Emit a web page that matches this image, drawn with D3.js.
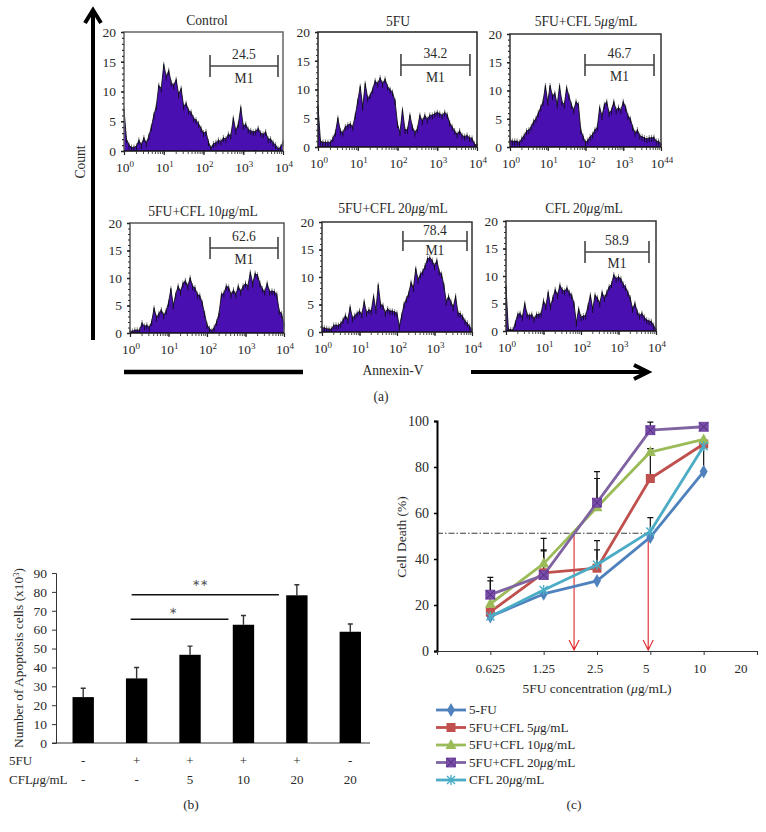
<!DOCTYPE html>
<html><head><meta charset="utf-8">
<style>
html,body{margin:0;padding:0;background:#fff}
svg{display:block}
text{font-family:"Liberation Serif",serif;fill:#2a2a2a}
</style>
<script src="https://cdn.jsdelivr.net/npm/d3@7"></script>
</head><body><svg id="c" width="766" height="832"></svg>
<script>
// ---- panel (a): flow histograms, counts per log channel (16 channels per decade)
const panelTitles = ["Control","5FU","5FU+CFL 5μg/mL","5FU+CFL 10μg/mL","5FU+CFL 20μg/mL","CFL 20μg/mL"];
const m1Percent = ["24.5","34.2","46.7","62.6","78.4","58.9"];
const m1Range = [[146,7480],[122,6640],[97,6530],[120,6980],[144,7360],[128,6500]];
const histControl = [7,2,1,.6,.6,.8,1.8,1,2.2,1.3,2.5,4,6,7.5,11,10.5, 14.5,12.5,13.5,11.5,11,12,9.5,10.5,7.5,8,6.8,6.5,5.5,5.2,4.6,3.8, 3,3.2,1.5,.5,1.2,1.4,1.8,1.6,2.2,2,2.8,2.6,5.5,3.4,4.5,7.3, 4.2,4.5,3.6,3.4,3.2,3.3,3.8,3,2.8,3.2,2,2,1.4,1,.4,.6,1.5];
const hist5FU = [7,1,.8,.8,.8,.8,1.5,2.5,5,2.8,2.5,3.5,3.8,4,3.5,5.5, 8,10.5,7,11,8.5,9,10,11.5,11,12,11,11.8,10.5,10,9.5,8, 4,2.5,6.5,3,3,5.5,3.5,2.5,3.2,5.5,4.5,5.5,4.8,5.5,5.5,5.8, 6,5.8,5.5,6,5.6,4.2,3.5,2.8,2.2,2.8,2,1.8,2,1.6,1.5,.5,.3];
const histCFL5 = [1.2,1,1,1,.8,1.5,2,2.8,3,3.6,4.5,5,6,7,8,10.8, 8,10.8,9,9.5,7.5,10.8,8,7.5,10.5,9,7.5,6.5,8,7.5,3,1.8, .8,1.2,1.8,2.2,3,3.5,7,5.5,7.5,8,6,6.5,8,6.5,7,6.5, 8,7,5.5,5,3.5,2.5,3,2,1.8,1.6,1.4,1.6,1.6,1.7,1,1,.4];
const histCFL10 = [.3,.3,.5,.5,.5,1.8,1.2,1.4,1,2,4.5,2.8,3.5,4.2,3.2,4, 5.5,8,5,7,8.5,7.5,9,9.5,8.5,10,8.5,8.2,7,6.8,5.5,3.5, 1.5,.8,.4,1,2,3.5,7,7.2,8.5,8.3,7,7.8,7,8.5,7.5,8.5, 9,8.5,11,9,10.8,10.5,9,8,7.5,9,7.5,7.6,7.5,7,4,3.5,1.5];
const histCFL20 = [.8,.7,.6,.5,.5,1.2,1.2,1.2,1.5,2.2,3,2.2,4.5,2.5,3,3.4, 3.8,3.2,5.5,3.5,4,3.8,6.5,4,8.5,5,4.8,3.5,4.2,3.8,3.8,3.6, 3.4,1,3,5,6,7,9,8,11.5,9.5,10.5,11,12,13.3,13.5,13, 12,13,11,10.5,8.5,5.5,6.5,5.5,4.5,6.5,3.5,3.3,2.8,2,1.6,1,.3];
const histOnly = [8,.3,.2,.2,1.5,3,3.2,2.5,5,3,2.8,3,2.2,3,3,3.2, 5.5,4.5,7,4.5,6,7.5,6.5,8.3,7.5,7.2,7.8,7,6.5,5,1.5,4, 2.5,2.7,2.8,4.5,6.5,4,6.5,6,5,7,6,7,8,8.5,10.2,9.5, 9.8,9.5,8.5,8,7,6,4,5,3.5,2.8,3.2,2.5,2,1.8,1.7,1,.2];
const histograms = [histControl,hist5FU,histCFL5,histCFL10,histCFL20,histOnly];

// ---- panel (b)
const barValues = [24.3,34.2,46.7,62.6,78.2,58.9];
const barErrTops = [29,40,51.3,67.5,83.8,63];
const row5FU = ["-","+","+","+","+","-"];
const rowCFL = ["-","-","5","10","20","20"];

// ---- panel (c)
const concLabels = ["0.625","1.25","2.5","5","10","20"];
const series5FU = [15,24.8,30.5,49.5,78];
const seriesCFL5 = [17,34,36,75,90];
const seriesCFL10 = [20.5,38,62.5,86.5,92];
const seriesCFL20 = [24.5,33,64.5,96,97.5];
const seriesCFLonly = [15,26.5,37.5,52,89];
const errCFL20 = [32,44,78,99.5,null];
const errCFL10 = [30.5,49,75,88,null];
const errCFL5 = [null,43.5,48,88,null];
const errOnly = [null,null,44,58,null];
const err5FU = [null,null,null,null,90];
const legendLabels = ["5-FU","5FU+CFL 5μg/mL","5FU+CFL 10μg/mL","5FU+CFL 20μg/mL","CFL 20μg/mL"];

const svg = d3.select("#c");
const ink = "#2a2a2a";

function rich(sel,str){
  str.split(/(μ)/).forEach(p=>{
    if(!p) return;
    const t = sel.append("tspan").text(p);
    if(p==="μ") t.attr("font-style","italic");
  });
  return sel;
}
function label(parent,x,y,str,size,anchor){
  return rich(parent.append("text").attr("x",x).attr("y",y).attr("font-size",size).attr("text-anchor",anchor||"middle"),str);
}

// ============ panel (a) ============
const frames = [
 {x0:124,x1:283,y0:151,y1:32,tx:207,ty:25,my:66,cap:11,up:7,dn:16.5,fr:"#666"},
 {x0:318,x1:477,y0:147,y1:32,tx:398,ty:26,my:65,cap:11,up:7,dn:16.5,fr:"#222"},
 {x0:510,x1:661,y0:147,y1:34,tx:586,ty:26,my:65,cap:11,up:7,dn:16,fr:"#333",clip:true},
 {x0:130,x1:284,y0:333,y1:223,tx:203,ty:216,my:248,cap:11,up:7,dn:16,fr:"#555"},
 {x0:322,x1:472,y0:332,y1:222,tx:393,ty:213,my:241,cap:10,up:6,dn:14,fr:"#333"},
 {x0:506,x1:656,y0:331,y1:221,tx:584,ty:213,my:252,cap:11,up:7,dn:16,fr:"#333"}
];
svg.append("defs").append("clipPath").attr("id","cut").append("rect").attr("x",500).attr("y",150).attr("width",173).attr("height",30);

frames.forEach((f,i)=>{
  const g = svg.append("g");
  const x = d3.scaleLog().domain([1,1e4]).range([f.x0,f.x1]);
  const y = d3.scaleLinear().domain([0,20]).range([f.y0,f.y1]);
  const vals = histograms[i];
  const channel = j=>Math.pow(10,j/16);
  const area = d3.area().x((d,j)=>x(channel(j))).y0(y(0)).y1(d=>y(d));
  const line = d3.line().x((d,j)=>x(channel(j))).y(d=>y(d));
  g.append("path").attr("d",area(vals)).attr("fill","#4a0fb0");
  // hairy channel needles along the outline
  g.selectAll("line.needleG").data(vals).join("line").attr("class","needleG")
    .attr("x1",(d,j)=>x(channel(j))).attr("x2",(d,j)=>x(channel(j)))
    .attr("y1",d=>y(d)-3).attr("y2",d=>y(d)).attr("stroke","#8a8a8a").attr("stroke-width",1);
  g.selectAll("line.needleK").data(vals).join("line").attr("class","needleK")
    .attr("x1",(d,j)=>x(channel(j))).attr("x2",(d,j)=>x(channel(j)))
    .attr("y1",d=>y(d)-1).attr("y2",d=>Math.min(y(d)+4,y(0))).attr("stroke","#0c0c18").attr("stroke-width",.9);
  g.append("path").attr("d",line(vals)).attr("fill","none").attr("stroke","#0c0c18").attr("stroke-width",.9);
  // frame
  g.append("path").attr("d",`M${f.x0},${f.y0}V${f.y1}H${f.x1}V${y(0)}`).attr("fill","none").attr("stroke",f.fr).attr("stroke-width",1.5);
  g.append("line").attr("x1",f.x0).attr("x2",f.x1).attr("y1",y(0)).attr("y2",y(0)).attr("stroke","#111").attr("stroke-width",1.5);
  // y axis: minor dots and labelled majors
  const ya = g.append("g").attr("transform",`translate(${f.x0},0)`)
    .call(d3.axisLeft(y).tickValues(d3.range(0,21)).tickSize(2).tickFormat(""));
  ya.select(".domain").remove();
  ya.selectAll("line").attr("stroke","#333").attr("stroke-width",1.2);
  const yb = g.append("g").attr("transform",`translate(${f.x0},0)`)
    .call(d3.axisLeft(y).tickValues([0,5,10,15,20]).tickSize(3).tickPadding(5));
  yb.select(".domain").remove();
  yb.selectAll("line").attr("stroke","#222").attr("stroke-width",1.5);
  yb.selectAll("text").attr("font-family","Liberation Serif").attr("font-size",13.5).attr("fill",ink);
  // x axis
  const minors = d3.range(0,4).flatMap(d=>d3.range(1,10).map(m=>m*Math.pow(10,d))).concat([1e4]);
  const xa = g.append("g").attr("transform",`translate(0,${y(0)})`)
    .call(d3.axisBottom(x).tickValues(minors).tickSize(3).tickFormat(""));
  xa.select(".domain").remove();
  xa.selectAll("line").attr("stroke","#333").attr("stroke-width",.9);
  const xb = g.append("g").attr("transform",`translate(0,${y(0)})`)
    .call(d3.axisBottom(x).tickValues([1,10,100,1e3,1e4]).tickSize(4).tickFormat(""));
  xb.select(".domain").remove();
  xb.selectAll("line").attr("stroke","#222").attr("stroke-width",1.2);
  [1,10,100,1e3,1e4].forEach((v,k)=>{
    const t = g.append("text").attr("x",x(v)+1).attr("y",y(0)+21).attr("font-size",13.5).attr("text-anchor","middle");
    t.append("tspan").text("10");
    t.append("tspan").attr("dy",-5.5).attr("font-size",9).text((f.clip&&k===4)?"44":k);
    if(f.clip&&k===4) t.attr("clip-path","url(#cut)");
  });
  // title + M1 gate
  label(g,f.tx,f.ty,panelTitles[i],13.6);
  const mx0 = x(m1Range[i][0]), mx1 = x(m1Range[i][1]);
  g.append("path").attr("d",`M${mx0},${f.my-f.cap}V${f.my+f.cap}M${mx0},${f.my}H${mx1}M${mx1},${f.my-f.cap}V${f.my+f.cap}`)
    .attr("fill","none").attr("stroke","#444").attr("stroke-width",1.6);
  label(g,(mx0+mx1)/2,f.my-f.up,m1Percent[i],13.6);
  label(g,(mx0+mx1)/2,f.my+f.dn,"M1",13.6);
});
// big arrows of panel (a)
svg.append("path").attr("d","M93,340V10M85,23L93,10L101,23").attr("fill","none").attr("stroke","#000").attr("stroke-width",4);
svg.append("path").attr("d","M124,372H303").attr("stroke","#000").attr("stroke-width",4.5);
svg.append("path").attr("d","M471,372H648M634,365L648,372L634,379").attr("fill","none").attr("stroke","#000").attr("stroke-width",4);
label(svg,0,0,"Count",13.6).attr("transform","translate(85,162) rotate(-90)");
label(svg,393,375,"Annexin-V",13.6);
label(svg,381,401,"(a)",13.6);

// ============ panel (b) ============
const by = d3.scaleLinear().domain([0,90]).range([743,573]);
const bx = d3.scaleBand().domain(d3.range(6)).range([56.5,377]).paddingInner(.6).paddingOuter(.3);
const gb = svg.append("g");
const byAxis = gb.append("g").attr("transform","translate(56,0)").call(d3.axisLeft(by).tickValues(d3.range(0,91,10)).tickSize(4).tickPadding(5));
byAxis.selectAll("text").attr("font-family","Liberation Serif").attr("font-size",13.5).attr("fill",ink);
byAxis.selectAll("line,path").attr("stroke","#333");
gb.append("line").attr("x1",52).attr("x2",370).attr("y1",by(0)).attr("y2",by(0)).attr("stroke","#333");
const bc = i=>bx(i)+bx.bandwidth()/2;
barErrTops.forEach((t,i)=>{
  gb.append("path").attr("d",`M${bc(i)},${by(barValues[i])}V${by(t)}M${bc(i)-2.5},${by(t)}H${bc(i)+2.5}`).attr("stroke","#333").attr("stroke-width",1.4).attr("fill","none");
});
gb.selectAll("rect.bar").data(barValues).join("rect").attr("class","bar")
  .attr("x",(d,i)=>bx(i)).attr("width",bx.bandwidth()).attr("y",d=>by(d)).attr("height",d=>by(0)-by(d)).attr("fill","#000");
// significance lines
gb.append("line").attr("x1",bc(1)-5).attr("x2",bc(4)-18).attr("y1",by(78.5)).attr("y2",by(78.5)).attr("stroke","#111").attr("stroke-width",1.5);
gb.append("line").attr("x1",bc(1)-6).attr("x2",bc(3)-15).attr("y1",by(65.5)).attr("y2",by(65.5)).attr("stroke","#111").attr("stroke-width",1.5);
label(gb,200,586,"∗∗",10).style("fill","#555");
label(gb,173,614,"∗",10).style("fill","#555");
row5FU.forEach((s,i)=>label(gb,bc(i),765,s,13));
rowCFL.forEach((s,i)=>label(gb,bc(i),784,s,13));
label(gb,9,765,"5FU",13,"start");
label(gb,9,784,"CFLμg/mL",13,"start");
label(gb,191,809,"(b)",13.5);
const byl = gb.append("text").attr("transform","translate(23,658) rotate(-90)").attr("text-anchor","middle").attr("font-size",13.4);
byl.append("tspan").text("Number of Apoptosis cells (x10");
byl.append("tspan").attr("dy",-4).attr("font-size",8.5).text("3");
byl.append("tspan").attr("dy",4).text(")");

// ============ panel (c) ============
const cy = d3.scaleLinear().domain([0,100]).range([651,421]);
const cx = d3.scaleLinear().domain([0,6]).range([437,757]);
const gc = svg.append("g");
const seriesDefs = [
 {v:series5FU,e:err5FU,c:"#4f81bd",m:"diamond"},
 {v:seriesCFL5,e:errCFL5,c:"#c0504d",m:"square"},
 {v:seriesCFL10,e:errCFL10,c:"#9bbb59",m:"triangle"},
 {v:seriesCFL20,e:errCFL20,c:"#8064a2",m:"boxx"},
 {v:seriesCFLonly,e:errOnly,c:"#4bacc6",m:"star"}
];
// error bars behind the lines
seriesDefs.forEach(s=>s.e.forEach((t,i)=>{
  if(t==null) return;
  gc.append("path").attr("d",`M${cx(i+1)},${cy(s.v[i])}V${cy(t)}M${cx(i+1)-3},${cy(t)}H${cx(i+1)+3}`).attr("stroke","#111").attr("stroke-width",1.2).attr("fill","none");
}));
const cyAxis = gc.append("g").attr("transform","translate(437,0)").call(d3.axisLeft(cy).tickValues(d3.range(0,101,20)).tickSize(3).tickPadding(5));
cyAxis.selectAll("text").attr("font-family","Liberation Serif").attr("font-size",14).attr("fill",ink);
cyAxis.select(".domain").attr("stroke","#000").attr("stroke-width",2);
cyAxis.selectAll("line").attr("stroke","#000").attr("stroke-width",1.5);
const cxAxis = gc.append("g").attr("transform",`translate(0,${cy(0)})`).call(d3.axisBottom(cx).tickValues(d3.range(0,7)).tickSize(4).tickSizeOuter(0).tickFormat(""));
cxAxis.selectAll("line").attr("stroke","#333");
cxAxis.select(".domain").attr("stroke","#333").attr("stroke-width",1.2);
const tickLabelNudge = [0,0,-2,-4,-4,-16];
concLabels.forEach((s,i)=>label(gc,cx(i+1)+tickLabelNudge[i],673,s,13));
label(gc,597,693,"5FU concentration (μg/mL)",13.5);
label(gc,0,0,"Cell Death (%)",13.5).attr("transform","translate(406,537) rotate(-90)");
// reference dash-dot line and red arrows
gc.append("line").attr("x1",cx(0)).attr("x2",cx(3.96)).attr("y1",cy(51.2)).attr("y2",cy(51.2)).attr("stroke","#222").attr("stroke-width",.9).attr("stroke-dasharray","6 2 1.5 2");
[2.57,3.96].forEach(ix=>{
  const X=cx(ix),Y=cy(0);
  gc.append("path").attr("d",`M${X},${cy(51.2)}V${Y-1}M${X-5},${Y-11}L${X},${Y-1}L${X+5},${Y-11}`).attr("fill","none").attr("stroke","#e0262b").attr("stroke-width",1.1);
});
function marker(g,kind,X,Y,col){
  if(kind==="diamond") g.append("path").attr("d",d3.symbol(d3.symbolDiamond,55)()).attr("transform",`translate(${X},${Y})`).attr("fill",col);
  if(kind==="square") g.append("rect").attr("x",X-4.5).attr("y",Y-4.5).attr("width",9).attr("height",9).attr("fill",col);
  if(kind==="triangle") g.append("path").attr("d",`M${X},${Y-6}L${X+5.5},${Y+4}H${X-5.5}Z`).attr("fill",col);
  if(kind==="boxx"){
    g.append("rect").attr("x",X-4.5).attr("y",Y-4.5).attr("width",9).attr("height",9).attr("fill","#7b4fa6").attr("stroke","#6a3a9c").attr("stroke-width",.8);
    g.append("path").attr("d",`M${X-4.5},${Y-4.5}L${X+4.5},${Y+4.5}M${X+4.5},${Y-4.5}L${X-4.5},${Y+4.5}`).attr("stroke","#4b2a86").attr("stroke-width",1);
  }
  if(kind==="star") g.append("path").attr("d",`M${X-4},${Y-4}L${X+4},${Y+4}M${X+4},${Y-4}L${X-4},${Y+4}M${X},${Y-5}V${Y+5}`).attr("stroke",col).attr("stroke-width",1.4).attr("fill","none");
}
const cline = d3.line().x((d,i)=>cx(i+1)).y(d=>cy(d));
seriesDefs.forEach(s=>{
  gc.append("path").attr("d",cline(s.v)).attr("fill","none").attr("stroke",s.c).attr("stroke-width",2.8).attr("stroke-linejoin","round");
  s.v.forEach((d,i)=>marker(gc,s.m,cx(i+1),cy(d),s.c));
});
// legend
const legendY = d3.scalePoint().domain(d3.range(5)).range([710,780]);
legendLabels.forEach((s,i)=>{
  const d = seriesDefs[i], Y = legendY(i);
  gc.append("line").attr("x1",436).attr("x2",466).attr("y1",Y).attr("y2",Y).attr("stroke",d.c).attr("stroke-width",2.8);
  marker(gc,d.m,451,Y,d.c);
  label(gc,469,Y+4,s,13.2,"start");
});
label(gc,574,809,"(c)",13.5);
</script></body></html>
